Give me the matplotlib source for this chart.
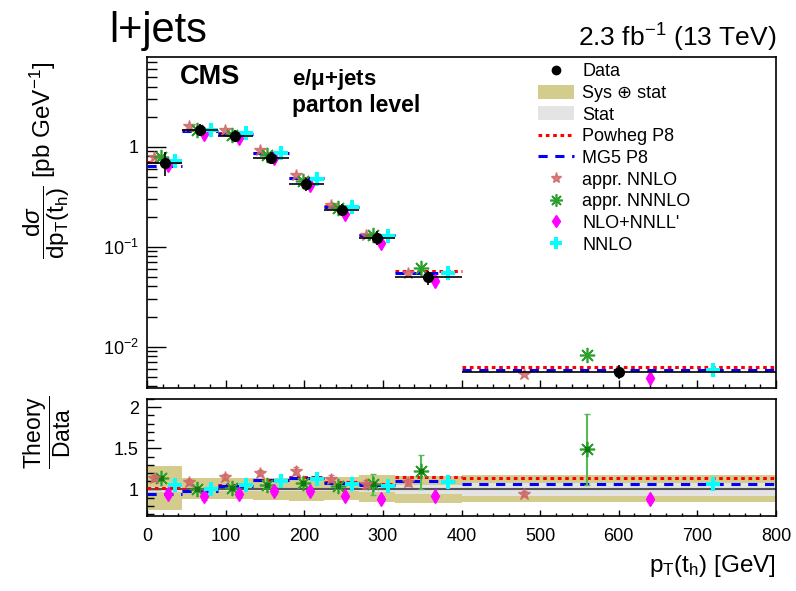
import numpy as np
import matplotlib
matplotlib.use("Agg")
import matplotlib.pyplot as plt
from matplotlib.lines import Line2D
from matplotlib.patches import Patch
from matplotlib.ticker import FixedLocator, FuncFormatter, MultipleLocator, LogLocator, NullFormatter

plt.rcParams['font.family'] = ['Liberation Sans', 'DejaVu Sans']
plt.rcParams['mathtext.fontset'] = 'custom'
plt.rcParams['mathtext.rm'] = 'Liberation Sans'
plt.rcParams['mathtext.it'] = 'Liberation Sans:italic'
plt.rcParams['mathtext.bf'] = 'Liberation Sans:bold'

# ---------------- data ----------------
bin_edges = [0, 45, 90, 135, 180, 225, 270, 315, 400, 800]
data_xsec = [0.687, 1.47, 1.29, 0.78, 0.424, 0.233, 0.123, 0.0498, 0.00555]
sys_up = [1.28, 1.14, 1.14, 1.14, 1.15, 1.15, 1.17, 1.16, 1.17]
sys_dn = [0.75, 0.88, 0.88, 0.87, 0.86, 0.87, 0.85, 0.84, 0.85]
stat_err = [0.03, 0.015, 0.015, 0.015, 0.02, 0.02, 0.03, 0.05, 0.075]

ratio_powheg = [1.02, 1.00, 1.055, 1.12, 1.15, 1.09, 1.07, 1.145, 1.14]
ratio_mg5 = [0.94, 0.975, 1.045, 1.11, 1.14, 1.08, 1.055, 1.105, 1.06]
ratio_nnlo_appr = [1.14, 1.09, 1.15, 1.20, 1.22, 1.13, 1.06, 1.085, 0.95]
err_nnlo_appr = [0.04, 0.04, 0.04, 0.04, 0.05, 0.04, 0.05, 0.04, 0.03]
ratio_nnnlo_appr = [1.14, 1.01, 1.02, 1.055, 1.075, 1.04, 1.065, 1.22, 1.49]
err_nnnlo_up = [0.02, 0.02, 0.02, 0.02, 0.02, 0.02, 0.12, 0.20, 0.43]
err_nnnlo_dn = [0.02, 0.02, 0.02, 0.02, 0.02, 0.02, 0.135, 0.22, 0.44]
ratio_nlo_nnll = [0.95, 0.915, 0.945, 0.985, 0.985, 0.92, 0.885, 0.92, 0.88]
err_nlo_nnll = [0.04, 0.04, 0.04, 0.04, 0.035, 0.03, 0.03, 0.03, 0.035]
ratio_nnlo = [1.055, 1.005, 1.055, 1.105, 1.13, 1.07, 1.04, 1.095, 1.06]
err_nnlo = [0.01, 0.01, 0.01, 0.01, 0.01, 0.01, 0.01, 0.015, 0.02]

x_ticks = [0, 100, 200, 300, 400, 500, 600, 700, 800]

# ---------------- derived positions ----------------
edges = np.array(bin_edges, dtype=float)
lo, hi = edges[:-1], edges[1:]
width = hi - lo
center = lo + 0.5 * width
pos_star = lo + 0.2 * width
pos_ast = lo + 0.4 * width
pos_dia = lo + 0.6 * width
pos_cross = lo + 0.8 * width
data = np.array(data_xsec)

C_SYS = '#d3cc8c'
C_STAT = '#e4e4e4'
C_STAR = '#d06868'
C_AST = '#2ca02c'
C_DIA = '#ff00ff'
C_CROSS = '#00ffff'
DOT = (0, (1.2, 1.2))
DASH = (0, (3, 2.5))

W, H = 796, 591
fig = plt.figure(figsize=(W / 100, H / 100), dpi=100)
axL, axR = 147 / W, 776 / W
ax = fig.add_axes([axL, 1 - 388 / H, axR - axL, (388 - 57) / H])
rx = fig.add_axes([axL, 1 - 515.7 / H, axR - axL, (515.7 - 399) / H])

# ---------------- top panel ----------------
ax.set_yscale('log')
ax.set_xlim(0, 800)
ax.set_ylim(0.00386, 7.9)

ax.hlines(data * np.array(ratio_powheg), lo, hi, colors='red', linestyles=DOT, lw=2.2, zorder=3)
ax.hlines(data * np.array(ratio_mg5), lo, hi, colors='blue', linestyles=DASH, lw=2.2, zorder=3)

ax.plot(pos_star, data * np.array(ratio_nnlo_appr), ls='none', marker='*', ms=9, color=C_STAR, alpha=0.85, zorder=4)
ax.plot(pos_ast, data * np.array(ratio_nnnlo_appr), ls='none', marker=(8, 2, 0), ms=11, mew=1.2, color=C_AST, zorder=4)
ax.plot(pos_dia, data * np.array(ratio_nlo_nnll), ls='none', marker='d', ms=7, color=C_DIA, zorder=4)
ax.plot(pos_cross, data * np.array(ratio_nnlo), ls='none', marker='P', ms=10, color=C_CROSS, mew=0, zorder=4)

yerr = [data * (1 - np.array(sys_dn)), data * (np.array(sys_up) - 1)]
ax.errorbar(center, data, xerr=width / 2, yerr=yerr, fmt='o', color='black', ms=7,
            elinewidth=1.2, capsize=0, zorder=5)

ax.yaxis.set_major_locator(FixedLocator([0.01, 0.1, 1]))
ax.yaxis.set_major_formatter(FuncFormatter(lambda v, p: {1: '1', 0.1: r'$10^{-1}$', 0.01: r'$10^{-2}$'}.get(round(v, 4), '')))
ax.yaxis.set_minor_locator(LogLocator(base=10, subs=np.arange(2, 10)))
ax.yaxis.set_minor_formatter(NullFormatter())
ax.xaxis.set_major_locator(FixedLocator(x_ticks))
ax.xaxis.set_minor_locator(MultipleLocator(20))
ax.tick_params(axis='both', which='both', direction='in', top=False, right=False, labelbottom=False)
ax.tick_params(axis='y', which='major', length=14, width=1, labelsize=13, pad=6)
ax.tick_params(axis='y', which='minor', length=7, width=1)
ax.tick_params(axis='x', which='major', length=6, width=1)
ax.tick_params(axis='x', which='minor', length=3, width=1)

# ---------------- ratio panel ----------------
rx.set_xlim(0, 800)
rx.set_ylim(0.68, 2.10)
for i in range(len(lo)):
    rx.fill_between([lo[i], hi[i]], [sys_dn[i]] * 2, [sys_up[i]] * 2, color=C_SYS, lw=0, zorder=1)
    rx.fill_between([lo[i], hi[i]], [1 - stat_err[i]] * 2, [1 + stat_err[i]] * 2, color=C_STAT, lw=0, zorder=1.5)
rx.hlines(np.ones(len(lo)), lo, hi, colors='#555555', lw=1.5, zorder=2)
rx.hlines(ratio_powheg, lo, hi, colors='red', linestyles=DOT, lw=2.2, zorder=3)
rx.hlines(ratio_mg5, lo, hi, colors='blue', linestyles=DASH, lw=2.2, zorder=3)

rx.errorbar(pos_star, ratio_nnlo_appr, yerr=err_nnlo_appr, fmt='*', ms=9, color=C_STAR, alpha=0.85,
            capsize=2, elinewidth=1.2, zorder=4)
rx.errorbar(pos_ast, ratio_nnnlo_appr, yerr=[err_nnnlo_dn, err_nnnlo_up], fmt='none', color='#55bb55',
            capsize=2, elinewidth=1.5, zorder=4)
rx.plot(pos_ast, ratio_nnnlo_appr, ls='none', marker=(8, 2, 0), ms=11, mew=1.2, color=C_AST, zorder=4)
rx.plot(pos_ast, ratio_nnnlo_appr, ls='none', marker='s', ms=3, color='#117711', zorder=4)
rx.errorbar(pos_dia, ratio_nlo_nnll, yerr=err_nlo_nnll, fmt='d', ms=7, color=C_DIA,
            capsize=2, elinewidth=1.2, zorder=4)
rx.errorbar(pos_cross, ratio_nnlo, yerr=err_nnlo, fmt='P', ms=10, mew=0, color=C_CROSS,
            capsize=0, elinewidth=1.2, zorder=4)

rx.yaxis.set_major_locator(FixedLocator([1, 1.5, 2]))
rx.yaxis.set_major_formatter(FuncFormatter(lambda v, p: '%g' % v))
rx.yaxis.set_minor_locator(MultipleLocator(0.1))
rx.xaxis.set_major_locator(FixedLocator(x_ticks))
rx.xaxis.set_major_formatter(FuncFormatter(lambda v, p: '%d' % v))
rx.xaxis.set_minor_locator(MultipleLocator(20))
rx.tick_params(axis='both', which='both', direction='in', top=False, right=False)
rx.tick_params(axis='y', which='major', length=10, width=1, labelsize=13, pad=6)
rx.tick_params(axis='y', which='minor', length=5, width=1)
rx.tick_params(axis='x', which='major', length=4, width=1, labelsize=13, pad=9)
rx.tick_params(axis='x', which='minor', length=2, width=1)

for a in (ax, rx):
    for s in a.spines.values():
        s.set_linewidth(1.2)

# ---------------- legend ----------------
handles = [
    Line2D([], [], ls='none', marker='o', ms=6, color='black'),
    Patch(facecolor=C_SYS, edgecolor='none'),
    Patch(facecolor=C_STAT, edgecolor='none'),
    Line2D([], [], color='red', ls=DOT, lw=2.2),
    Line2D([], [], color='blue', ls=DASH, lw=2.2),
    Line2D([], [], ls='none', marker='*', ms=8, color=C_STAR, alpha=0.85),
    Line2D([], [], ls='none', marker=(8, 2, 0), ms=9, mew=1.2, color=C_AST),
    Line2D([], [], ls='none', marker='d', ms=6, color=C_DIA),
    Line2D([], [], ls='none', marker='P', ms=8, mew=0, color=C_CROSS),
]
labels = ['Data', 'Sys \u2295 stat', 'Stat', 'Powheg P8', 'MG5 P8',
          'appr. NNLO', 'appr. NNNLO', "NLO+NNLL'", 'NNLO']
fig.legend(handles, labels, loc='upper left', bbox_to_anchor=(538 / W, 1 - 63 / H),
           frameon=False, fontsize=13, handlelength=2.0, handleheight=0.8, handletextpad=0.45,
           labelspacing=0.25, borderpad=0, borderaxespad=0)

# ---------------- texts ----------------
fig.text(109 / W, 1 - 42 / H, 'l+jets', fontsize=30, ha='left', va='baseline')
fig.text(776 / W, 1 - 47 / H, r'2.3 fb$^{-1}$ (13 TeV)', fontsize=19, ha='right', va='baseline')
ax.text((180 - 147) / 629, 1 - (84 - 57) / 331, 'CMS', fontsize=19.5, fontweight='bold',
        transform=ax.transAxes, ha='left', va='baseline')
ax.text((292 - 147) / 629, 1 - (85 - 57) / 331, r'e/$\mathbf{\mu}$+jets', fontsize=16, fontweight='bold',
        transform=ax.transAxes, ha='left', va='baseline')
ax.text((292 - 147) / 629, 1 - (112 - 57) / 331, 'parton level', fontsize=16.5, fontweight='bold',
        transform=ax.transAxes, ha='left', va='baseline')

fig.text(47 / W, 1 - 160 / H,
         r'$\dfrac{\mathrm{d}\sigma}{\mathrm{dp}_{\mathrm{T}}(\mathrm{t}_{\mathrm{h}})}$ [pb GeV$^{-1}$]',
         rotation=90, fontsize=17.5, ha='center', va='center')
fig.text(47 / W, 1 - 432 / H, r'$\dfrac{\mathrm{Theory}}{\mathrm{Data}}$',
         rotation=90, fontsize=16.5, ha='center', va='center')
fig.text(776 / W, 1 - 572 / H, r'p$_{\mathrm{T}}$(t$_{\mathrm{h}}$) [GeV]', fontsize=17.5, ha='right', va='baseline')

fig.savefig('out.png', dpi=100)
